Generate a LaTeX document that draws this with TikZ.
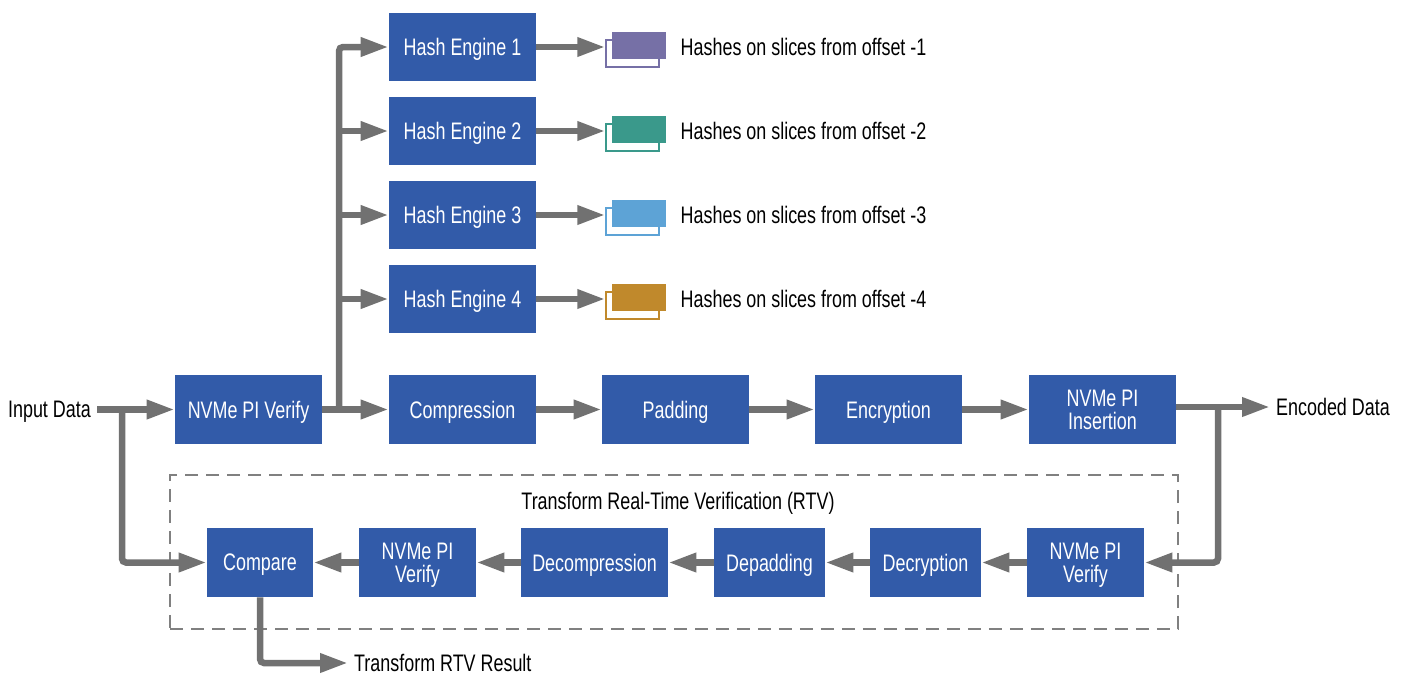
\documentclass[tikz,border=0pt]{standalone}
\usepackage{fontspec}
\setmainfont[FakeStretch=0.75]{Liberation Sans}
\usetikzlibrary{arrows.meta, positioning, calc}
\definecolor{blockblue}{RGB}{50,91,169}
\definecolor{flowgray}{RGB}{113,113,113}
\definecolor{framegray}{RGB}{128,128,128}
\definecolor{sliceone}{RGB}{118,112,166}
\definecolor{slicetwo}{RGB}{58,153,139}
\definecolor{slicethree}{RGB}{93,163,214}
\definecolor{slicefour}{RGB}{192,137,44}

\begin{document}
\begin{tikzpicture}[x=0.02cm, y=-0.02cm,
        block/.style={fill=blockblue, text=white, rectangle, minimum height=1.38cm, inner sep=0pt, text depth=0pt, align=center, font=\fontsize{13.6}{13}\selectfont},
        label/.style={text=black, inner sep=0.3333em, text depth=0pt, font=\fontsize{13.6}{13}\selectfont},
        flow/.style={draw=flowgray, line width=0.13cm, -{Triangle[length=0.56cm, width=0.36cm]}},
        sliceback/.style={fill=white, line width=0.03cm, rectangle, minimum width=1.06cm, minimum height=0.54cm, inner sep=0pt},
        slicefront/.style={rectangle, minimum width=1.08cm, minimum height=0.54cm, inner sep=0pt}]
        		\useasboundingbox (0,0) rectangle (1403,676);

        		\node (NVMePIVerify) at (248.5,409.5) [block, minimum width=2.94cm]{NVMe PI Verify};
        		\node (Compression) at ($(NVMePIVerify) + (214,0)$) [block, minimum width=2.94cm]{Compression};
        		\node (Padding) at ($(Compression) + (213,0)$) [block, minimum width=2.94cm]{Padding};
        		\node (Encryption) at ($(Padding) + (213,0)$) [block, minimum width=2.94cm]{Encryption};
        		\node (NVMePIInsertion) at ($(Encryption) + (214,0)$) [block, minimum width=2.94cm]{NVMe PI\\Insertion};

        		\node (HashEngineOne) at (462.5,47) [block, minimum width=2.94cm]{Hash Engine 1};
        		\node (HashEngineTwo) at ($(HashEngineOne) + (0,84)$) [block, minimum width=2.94cm]{Hash Engine 2};
        		\node (HashEngineThree) at ($(HashEngineTwo) + (0,84)$) [block, minimum width=2.94cm]{Hash Engine 3};
        		\node (HashEngineFour) at ($(HashEngineThree) + (0,84)$) [block, minimum width=2.94cm]{Hash Engine 4};

        		\node (SliceBackOne) at ($(HashEngineOne) + (170,6.5)$) [sliceback, draw=sliceone]{};
        		\node (SliceFrontOne) at ($(HashEngineOne) + (176.5,-1.5)$) [slicefront, fill=sliceone]{};
        		\node (SliceBackTwo) at ($(HashEngineTwo) + (170,6.5)$) [sliceback, draw=slicetwo]{};
        		\node (SliceFrontTwo) at ($(HashEngineTwo) + (176.5,-1.5)$) [slicefront, fill=slicetwo]{};
        		\node (SliceBackThree) at ($(HashEngineThree) + (170,6.5)$) [sliceback, draw=slicethree]{};
        		\node (SliceFrontThree) at ($(HashEngineThree) + (176.5,-1.5)$) [slicefront, fill=slicethree]{};
        		\node (SliceBackFour) at ($(HashEngineFour) + (170,6.5)$) [sliceback, draw=slicefour]{};
        		\node (SliceFrontFour) at ($(HashEngineFour) + (176.5,-1.5)$) [slicefront, fill=slicefour]{};

        		\node (HashesOne) at ($(HashEngineOne) + (212,0)$) [label, anchor=west]{Hashes on slices from offset -1};
        		\node (HashesTwo) at ($(HashEngineTwo) + (212,0)$) [label, anchor=west]{Hashes on slices from offset -2};
        		\node (HashesThree) at ($(HashEngineThree) + (212,0)$) [label, anchor=west]{Hashes on slices from offset -3};
        		\node (HashesFour) at ($(HashEngineFour) + (212,0)$) [label, anchor=west]{Hashes on slices from offset -4};

        		\node (RTVFrame) at (674,552) [draw=framegray, line width=0.03cm, dash pattern=on 0.26cm off 0.16cm, rectangle, minimum width=20.16cm, minimum height=3.08cm]{};
        		\node (RTVTitle) at (678,501) [label]{Transform Real-Time Verification (RTV)};

        		\node (Compare) at (260,562.5) [block, minimum width=2.12cm]{Compare};
        		\node (NVMePIVerifyB) at ($(Compare) + (157.5,0)$) [block, minimum width=2.34cm]{NVMe PI\\Verify};
        		\node (Decompression) at ($(NVMePIVerifyB) + (177,0)$) [block, minimum width=2.94cm]{Decompression};
        		\node (Depadding) at ($(Decompression) + (175,0)$) [block, minimum width=2.22cm]{Depadding};
        		\node (Decryption) at ($(Depadding) + (156,0)$) [block, minimum width=2.22cm]{Decryption};
        		\node (NVMePIVerifyC) at ($(Decryption) + (160,0)$) [block, minimum width=2.34cm]{NVMe PI\\Verify};

        		\node (InputData) at (97,409.5) [label, anchor=east]{Input Data};
        		\node (EncodedData) at (1270,407) [label, anchor=west]{Encoded Data};
        		\node (RTVResult) at (348,663) [label, anchor=west]{Transform RTV Result};

        		\coordinate (InputSplit) at (122,409.5);
        		\coordinate (HashSplit) at (339,409.5);
        		\coordinate (OutputSplit) at (1218,407);

        		\draw[flow] (InputData.east) -- (NVMePIVerify.west);
        		\draw[flow, rounded corners=0.08cm] (InputSplit) |- (Compare.west);
        		\draw[flow] (NVMePIVerify.east) -- (Compression.west);
        		\draw[flow, rounded corners=0.08cm] (HashSplit) |- (HashEngineOne.west);
        		\draw[flow] (HashSplit |- HashEngineTwo.west) -- (HashEngineTwo.west);
        		\draw[flow] (HashSplit |- HashEngineThree.west) -- (HashEngineThree.west);
        		\draw[flow] (HashSplit |- HashEngineFour.west) -- (HashEngineFour.west);
        		\draw[flow] (Compression.east) -- (Padding.west);
        		\draw[flow] (Padding.east) -- (Encryption.west);
        		\draw[flow] (Encryption.east) -- (NVMePIInsertion.west);
        		\draw[flow] (NVMePIInsertion.east |- EncodedData.west) -- (EncodedData.west);
        		\draw[flow, rounded corners=0.08cm] (OutputSplit) |- (NVMePIVerifyC.east);

        		\draw[flow] (HashEngineOne.east) -- (HashEngineOne.east -| SliceBackOne.west);
        		\draw[flow] (HashEngineTwo.east) -- (HashEngineTwo.east -| SliceBackTwo.west);
        		\draw[flow] (HashEngineThree.east) -- (HashEngineThree.east -| SliceBackThree.west);
        		\draw[flow] (HashEngineFour.east) -- (HashEngineFour.east -| SliceBackFour.west);

        		\draw[flow] (NVMePIVerifyC.west) -- (Decryption.east);
        		\draw[flow] (Decryption.west) -- (Depadding.east);
        		\draw[flow] (Depadding.west) -- (Decompression.east);
        		\draw[flow] (Decompression.west) -- (NVMePIVerifyB.east);
        		\draw[flow] (NVMePIVerifyB.west) -- (Compare.east);
        		\draw[flow, rounded corners=0.08cm] (Compare.south) |- (RTVResult.west);
		    \end{tikzpicture}
\end{document}
